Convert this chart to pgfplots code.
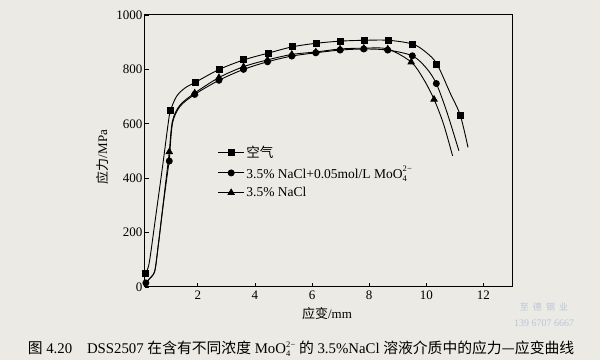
\documentclass[border=0pt]{standalone}
\usepackage{fontspec}
\setmainfont{Liberation Serif}
\newfontfamily\cjk{Noto Sans CJK SC}
\usepackage{pgfplots}
\pgfplotsset{compat=1.18}
\definecolor{paper}{RGB}{236,234,228}
\definecolor{wm}{RGB}{185,197,218}
\newcommand{\moo}[3]{MoO\rlap{\raisebox{-#2}{\fontsize{#1}{#1}\selectfont 4}}\raisebox{#3}{\fontsize{#1}{#1}\selectfont 2\kern0.3pt−}}
\begin{document}
\begin{tikzpicture}[x=1pt,y=1pt]
\fill[paper] (-145,-73) rectangle (455,287);
\begin{axis}[at={(0,0)}, anchor=south west,
  width=367pt, height=272pt, scale only axis,
  xmin=0.15, xmax=13, ymin=0, ymax=1000,
  xtick={2,4,...,12}, ytick={0,200,...,1000},
  tick pos=left, tick align=inside, major tick length=4pt,
  axis line style={line width=1pt},
  tick style={line width=0.8pt, black},
  /pgf/number format/assume math mode=true,
  /pgf/number format/1000 sep={},
  ticklabel style={font=\fontsize{13}{13}\selectfont},
  yticklabel style={xshift=1pt},
  xlabel={{\cjk 应变}/mm},
  ylabel={{\cjk 应力}/MPa},
  label style={font=\fontsize{13}{13}\selectfont},
  xlabel style={at={(axis description cs:0.496,-0.099)}, anchor=center},
  ylabel style={at={(axis description cs:-0.117,0.478)}, anchor=center},
  legend style={at={(axis description cs:0.19,0.535)}, anchor=north west,
    draw=none, fill=none, font=\fontsize{13.5}{14}\selectfont, row sep=3.5pt},
  legend cell align=left,
  legend image code/.code={\draw[mark repeat=2,mark phase=2] plot coordinates {(0cm,0cm) (0.45cm,0cm) (0.9cm,0cm)};},
]
% air
\addplot[forget plot, black, line width=0.9pt, smooth, tension=0.5, mark=square*, mark size=3pt,
  mark indices={1,6,9,10,11,12,13,14,15,16,17,18,20,22}] coordinates {
(0.18,50) (0.3,90) (0.5,240) (0.78,455) (0.96,600) (1.04,648) (1.25,700) (1.54,731)
(1.92,753) (2.75,800) (3.61,835) (4.47,860) (5.31,883) (6.14,896) (7.0,904) (7.84,907)
(8.68,907) (9.53,893) (10.0,862) (10.37,820) (10.84,712) (11.19,631) (11.46,513)
};
% NaCl + MoO4
\addplot[forget plot, black, line width=0.9pt, smooth, tension=0.5, mark=*, mark size=3pt,
  mark indices={1,7,10,11,12,13,14,15,16,17,18,19,21}] coordinates {
(0.18,15) (0.32,32) (0.49,58) (0.61,148) (0.78,295) (0.96,436) (1.0,463) (1.11,600) (1.37,663)
(1.89,708) (2.74,760) (3.6,800) (4.44,828) (5.29,849) (6.13,861) (6.98,871) (7.81,875)
(8.65,871) (9.51,850) (10.0,805) (10.35,748) (10.73,640) (11.14,501)
};
% NaCl
\addplot[forget plot, black, line width=0.9pt, smooth, tension=0.5, mark=triangle*, mark size=3.5pt,
  mark indices={7,10,11,12,13,14,15,16,17,18,19,21}] coordinates {
(0.18,15) (0.32,32) (0.49,58) (0.61,150) (0.78,300) (0.96,460) (1.0,497) (1.11,610) (1.37,668)
(1.89,713) (2.74,770) (3.6,810) (4.44,835) (5.29,855) (6.13,864) (6.98,875) (7.81,878)
(8.65,875) (9.47,827) (9.9,765) (10.27,690) (10.6,600) (10.92,482)
};
\addlegendimage{black, line width=0.9pt, mark=square*, mark size=3pt}
\addlegendimage{black, line width=0.9pt, mark=*, mark size=3pt}
\addlegendimage{black, line width=0.9pt, mark=triangle*, mark size=3.5pt}
\legend{{\cjk 空气}, 3.5\% NaCl+0.05mol/L \moo{8.5}{2.8pt}{6.5pt}, 3.5\% NaCl}
\end{axis}
\node[font=\fontsize{14.8}{14.8}\selectfont, anchor=center] at (156,-62)
  {{\cjk 图} 4.20\quad DSS2507 {\cjk 在含有不同浓度} \moo{8.5}{2.8pt}{6.5pt} {\cjk 的} 3.5\%NaCl {\cjk 溶液介质中的应力—应变曲线}};
\node[font=\fontsize{9}{9}\selectfont, text=wm, anchor=center] at (399,-20) {{\cjk 至\ \ 德\ \ 钢\ \ 业}};
\node[font=\fontsize{10}{10}\selectfont, text=wm, anchor=center] at (399,-36) {139 6707 6667};
\end{tikzpicture}
\end{document}
